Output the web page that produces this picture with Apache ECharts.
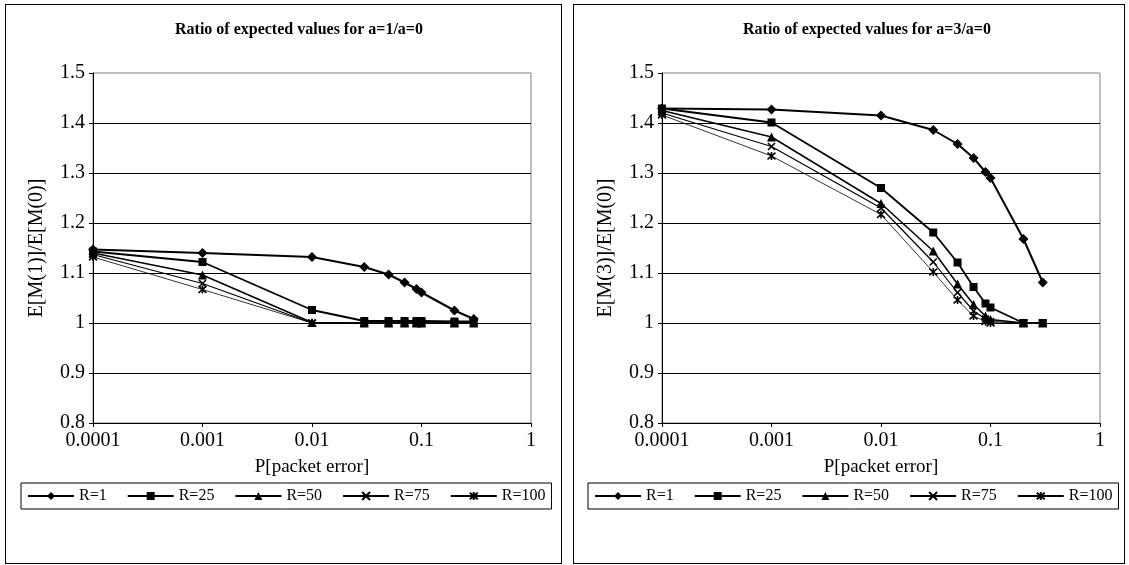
<!DOCTYPE html>
<html>
<head>
<meta charset="utf-8">
<script src="https://cdn.jsdelivr.net/npm/echarts@6/dist/echarts.min.js"></script>
<style>
  html, body { margin: 0; padding: 0; background: #fff; }
  body { width: 1129px; height: 565px; position: relative; overflow: hidden; }
  .box { position: absolute; top: 4px; height: 558px; border: 1px solid #000; background: #fff; }
  #c1 { left: 5px; width: 555px; }
  #c2 { left: 573px; width: 550px; }
</style>
</head>
<body>
<div id="c1" class="box"></div>
<div id="c2" class="box"></div>
<script>
// ---------- data ----------
const xValues = [0.0001, 0.001, 0.01, 0.03, 0.05, 0.07, 0.09, 0.1, 0.2, 0.3];
const xTickLabels = ['0.0001', '0.001', '0.01', '0.1', '1'];
const yTickLabels = ['0.8', '0.9', '1', '1.1', '1.2', '1.3', '1.4', '1.5'];
const seriesNames = ['R=1', 'R=25', 'R=50', 'R=75', 'R=100'];

const titleA1 = 'Ratio of expected values for a=1/a=0';
const titleA3 = 'Ratio of expected values for a=3/a=0';
const yNameA1 = 'E[M(1)]/E[M(0)]';
const yNameA3 = 'E[M(3)]/E[M(0)]';
const xName = 'P[packet error]';

// a=1 / a=0
const a1_R1   = [1.147, 1.140, 1.132, 1.112, 1.097, 1.081, 1.068, 1.061, 1.025, 1.008];
const a1_R25  = [1.143, 1.122, 1.026, 1.004, 1.004, 1.004, 1.004, 1.004, 1.003, 1.003];
const a1_R50  = [1.140, 1.096, 1.001, 1.000, 1.000, 1.000, 1.000, 1.000, 1.000, 1.000];
const a1_R75  = [1.137, 1.079, 1.000, 1.000, 1.000, 1.000, 1.000, 1.000, 1.000, 1.000];
const a1_R100 = [1.132, 1.067, 1.000, 1.000, 1.000, 1.000, 1.000, 1.000, 1.000, 1.000];

// a=3 / a=0
const a3_R1   = [1.429, 1.427, 1.415, 1.386, 1.358, 1.330, 1.302, 1.290, 1.168, 1.081];
const a3_R25  = [1.429, 1.401, 1.270, 1.181, 1.121, 1.072, 1.039, 1.031, 1.000, 1.000];
const a3_R50  = [1.425, 1.372, 1.239, 1.144, 1.078, 1.037, 1.014, 1.007, 1.000, 1.000];
const a3_R75  = [1.420, 1.353, 1.230, 1.122, 1.061, 1.024, 1.008, 1.003, 1.000, 1.000];
const a3_R100 = [1.416, 1.334, 1.217, 1.102, 1.046, 1.014, 1.003, 1.000, 1.000, 1.000];

// ---------- styling ----------
const FONT = '"Liberation Serif", "Times New Roman", serif';
const crossPath = 'path://M0,0L10,10M10,0L0,10';
const starPath = 'path://M0,0L10,10M10,0L0,10M5,-1L5,11';
const symbols = ['diamond', 'rect', 'triangle', crossPath, starPath];
const symbolSizes = [10, 8, 9, 7, 8];
const lineWidths = [2, 1.8, 1.5, 1.2, 0.8];

function pairs(vals) { return xValues.map((x, i) => [x, vals[i]]); }

function makeOption(title, yName, seriesVals, gridLeft, legendLeft, legendGap) {
  return {
    animation: false,
    backgroundColor: '#fff',
    title: {
      text: title, left: 164, top: 12,
      textStyle: { fontFamily: FONT, fontWeight: 'bold', fontSize: 16, color: '#000' }
    },
    grid: {
      left: gridLeft, top: 68, width: 438, height: 350,
      show: true, borderColor: '#808080', borderWidth: 1, backgroundColor: 'transparent'
    },
    legend: {
      data: seriesNames, left: legendLeft, top: 478, orient: 'horizontal',
      itemWidth: 46, itemHeight: 10, itemGap: legendGap,
      padding: [5, 6, 5, 6],
      borderColor: '#000', borderWidth: 1,
      textStyle: { fontFamily: FONT, fontSize: 16, color: '#000' },
      selectedMode: false
    },
    xAxis: {
      type: 'log', logBase: 10, min: 0.0001, max: 1,
      name: xName, nameLocation: 'middle', nameGap: 35,
      nameTextStyle: { fontFamily: FONT, fontSize: 19, color: '#000' },
      axisLine: { lineStyle: { color: '#000', width: 1 } },
      axisTick: { show: true, length: 4, lineStyle: { color: '#000' } },
      minorTick: { show: false },
      splitLine: { show: false },
      axisLabel: {
        fontFamily: FONT, fontSize: 20, color: '#000', margin: 8,
        formatter: v => xTickLabels[Math.round(Math.log10(v)) + 4]
      }
    },
    yAxis: {
      type: 'value', min: 0.8, max: 1.5, interval: 0.1,
      name: yName, nameLocation: 'middle', nameGap: 46, nameRotate: 90,
      nameTextStyle: { fontFamily: FONT, fontSize: 20, color: '#000' },
      axisLine: { show: true, lineStyle: { color: '#000', width: 1 } },
      axisTick: { show: true, length: 4, lineStyle: { color: '#000' } },
      splitLine: { show: true, showMaxLine: false, lineStyle: { color: '#000', width: 1 } },
      axisLabel: {
        fontFamily: FONT, fontSize: 20, color: '#000', margin: 8,
        formatter: v => yTickLabels[Math.round((v - 0.8) * 10)]
      }
    },
    series: seriesNames.map((name, i) => ({
      name: name, type: 'line',
      data: pairs(seriesVals[i]),
      symbol: symbols[i], symbolSize: symbolSizes[i],
      showAllSymbol: true,
      lineStyle: { color: '#000', width: lineWidths[i] },
      itemStyle: { color: '#000', borderColor: '#000', borderWidth: (i >= 3 ? 1.6 : 0) },
      emphasis: { disabled: true },
      z: 10 - i
    }))
  };
}

const chart1 = echarts.init(document.getElementById('c1'), null, { renderer: 'canvas' });
chart1.setOption(makeOption(titleA1, yNameA1, [a1_R1, a1_R25, a1_R50, a1_R75, a1_R100], 87, 15, 20));
const chart2 = echarts.init(document.getElementById('c2'), null, { renderer: 'canvas' });
chart2.setOption(makeOption(titleA3, yNameA3, [a3_R1, a3_R25, a3_R50, a3_R75, a3_R100], 88, 14, 20));
</script>
</body>
</html>
